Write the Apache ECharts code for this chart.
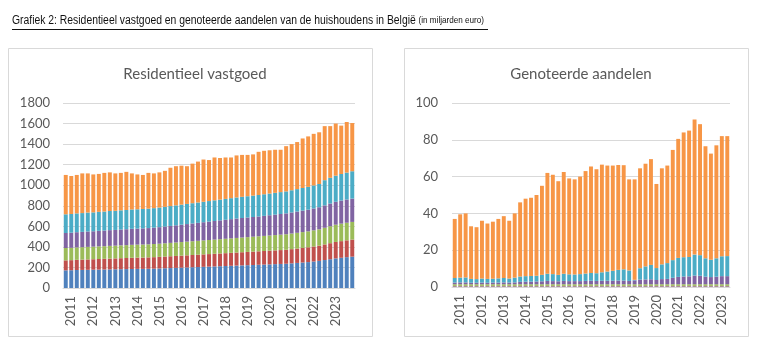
<!doctype html>
<html>
<head>
<meta charset="UTF-8">
<title>Grafiek 2</title>
<script src="https://cdn.jsdelivr.net/npm/echarts@6/dist/echarts.min.js"></script>
<style>
  html, body { margin: 0; padding: 0; background: #fff; }
  #main { width: 760px; height: 350px; }
</style>
</head>
<body>
<div id="main"></div>
<script type="text/javascript">
// kwartalen, 2010Q4 - 2023Q4
var quarters = [
  '2010Q4',
  '2011Q1','2011Q2','2011Q3','2011Q4','2012Q1','2012Q2','2012Q3','2012Q4',
  '2013Q1','2013Q2','2013Q3','2013Q4','2014Q1','2014Q2','2014Q3','2014Q4',
  '2015Q1','2015Q2','2015Q3','2015Q4','2016Q1','2016Q2','2016Q3','2016Q4',
  '2017Q1','2017Q2','2017Q3','2017Q4','2018Q1','2018Q2','2018Q3','2018Q4',
  '2019Q1','2019Q2','2019Q3','2019Q4','2020Q1','2020Q2','2020Q3','2020Q4',
  '2021Q1','2021Q2','2021Q3','2021Q4','2022Q1','2022Q2','2022Q3','2022Q4',
  '2023Q1','2023Q2','2023Q3','2023Q4'
];
// aandelen lopen tot 2023Q2
var quartersShares = quarters.slice(0, 51);

// Residentieel vastgoed (miljard euro), van onder naar boven
var resBlue = [172,173,175,176,177,178,179,180,181,182,183,184,185,186,186,187,188,190,192,194,196,198,200,202,204,206,208,210,212,214,216,218,220,222,224,226,228,230,232,234,236,240,244,248,252,258,264,272,280,288,294,300,305];
var resRed = [97,98,99,100,101,102,103,104,105,106,107,108,109,110,110,111,112,113,114,115,116,117,118,119,120,121,122,123,124,125,126,127,128,129,130,131,132,133,134,135,136,138,140,142,144,146,148,152,156,160,162,164,166];
var resGreen = [120,120,121,121,122,122,123,123,124,124,125,125,126,126,127,127,128,128,129,130,131,132,133,134,135,136,137,138,139,140,141,142,143,144,145,146,147,148,149,150,151,152,153,154,155,157,159,162,165,168,170,171,172];
var resPurple = [146,147,148,149,150,150,151,152,153,153,154,155,156,156,157,158,159,161,163,165,167,169,171,173,175,177,179,181,183,185,187,189,190,191,192,193,195,197,199,201,203,205,207,209,211,213,215,218,221,223,225,226,227];
var resTeal = [182,182,183,183,184,184,185,185,186,186,187,187,188,188,189,189,190,191,192,193,194,195,196,197,198,199,200,201,202,203,204,205,206,207,208,209,210,211,212,213,214,216,218,220,222,224,226,245,250,254,258,262,266];
var resOrange = [383,370,374,386,381,369,369,376,376,364,364,371,351,339,331,348,338,342,350,373,381,379,367,385,398,411,399,417,405,403,396,409,408,402,401,420,423,421,419,412,440,449,458,482,491,502,503,526,503,507,471,492,469];

// Genoteerde aandelen (miljard euro)
var shBlue = [0.3,0.3,0.3,0.3,0.3,0.3,0.3,0.3,0.3,0.3,0.3,0.3,0.3,0.3,0.3,0.3,0.3,0.3,0.3,0.3,0.3,0.3,0.3,0.3,0.3,0.3,0.3,0.3,0.3,0.3,0.3,0.3,0.3,0.3,0.3,0.3,0.3,0.3,0.3,0.3,0.3,0.3,0.3,0.3,0.3,0.3,0.3,0.3,0.3,0.3,0.3];
var shRed = [0.3,0.3,0.3,0.3,0.3,0.3,0.3,0.3,0.3,0.3,0.3,0.3,0.3,0.3,0.3,0.3,0.3,0.3,0.3,0.3,0.3,0.3,0.3,0.3,0.3,0.3,0.3,0.3,0.3,0.3,0.3,0.3,0.3,0.3,0.3,0.3,0.3,0.3,0.3,0.3,0.3,0.3,0.3,0.3,0.3,0.3,0.3,0.3,0.3,0.3,0.3];
var shGreen = [0.9,0.9,0.9,0.9,0.9,0.9,0.9,0.9,0.9,0.9,0.9,0.9,0.9,0.9,0.9,0.9,0.9,0.9,0.9,0.9,0.9,0.9,0.9,0.9,0.9,0.9,0.9,0.9,0.9,0.9,0.9,0.9,0.9,0.9,0.9,0.9,0.9,0.9,0.9,0.9,0.9,0.9,0.9,0.9,0.9,0.9,0.9,0.9,0.9,0.9,0.9];
var shPurple = [0.9,1.0,1.0,0.8,0.8,0.9,0.8,0.9,0.9,1.0,0.9,1.0,1.3,1.4,1.4,1.5,1.6,1.8,1.7,1.6,1.8,1.7,1.7,1.7,1.8,1.9,1.8,1.9,1.9,1.9,2.0,2.0,1.8,2.1,2.5,2.6,2.7,2.3,2.8,2.9,3.5,4.0,4.2,4.3,4.7,4.6,4.1,3.9,4.1,4.4,4.4];
var shTeal = [2.5,2.6,2.7,2.1,2.0,2.2,2.1,2.1,2.3,2.4,2.2,2.6,2.9,3.0,3.1,3.1,3.5,3.9,3.8,3.5,3.9,3.7,3.6,3.8,4.0,4.2,4.2,4.6,5.0,5.4,5.8,6.1,5.7,0.3,6.2,7.1,7.8,6.5,8.0,8.6,9.6,10.3,10.5,10.5,11.4,11.2,10.0,9.4,10.0,10.8,10.9];
var shOrange = [32.1,34.4,34.8,28.6,28.2,31.4,30.1,31.0,32.3,33.6,31.4,34.9,40.3,42.1,42.5,43.9,48.4,54.8,54.0,50.9,55.3,52.1,51.7,53.0,55.7,57.9,56.5,58.5,57.6,57.2,57.0,56.6,49.5,54.6,54.3,55.8,57.5,45.7,52.2,53.0,59.9,64.7,67.8,68.7,73.4,71.2,60.9,57.7,61.4,65.3,65.2];

var colors = ['#4f81bd', '#c0504d', '#9bbb59', '#8064a2', '#4bacc6', '#f79646'];
var labelColor = '#595959';
var gridColor = '#d9d9d9';
var uiFont = 'Lato, "Open Sans", sans-serif';
var headFont = '"Liberation Sans", Arial, sans-serif';

var myChart = echarts.init(document.getElementById('main'), null, { renderer: 'canvas' });

function xAxisFor(gridIndex, data) {
    return {
        type: 'category',
        gridIndex: gridIndex,
        data: data,
        axisLine: { show: true, lineStyle: { color: gridColor } },
        axisTick: { show: false },
        axisLabel: {
            rotate: 90,
            margin: 8,
            color: labelColor,
            fontFamily: uiFont,
            fontSize: 13,
            interval: function (idx) { return idx % 4 === 1; },
            formatter: function (v) { return v.slice(0, 4); }
        }
    };
}

function yAxisFor(gridIndex, max, step, margin) {
    return {
        type: 'value',
        gridIndex: gridIndex,
        min: 0,
        max: max,
        interval: step,
        axisLine: { show: false },
        axisTick: { show: false },
        splitLine: { lineStyle: { color: gridColor, width: 1 } },
        axisLabel: {
            color: labelColor, fontFamily: uiFont, fontSize: 13, margin: margin,
            formatter: function (v) { return String(v); }
        }
    };
}

function barsFor(axisIndex, stack, lists) {
    return lists.map(function (d, i) {
        return {
            type: 'bar',
            stack: stack,
            xAxisIndex: axisIndex,
            yAxisIndex: axisIndex,
            data: d,
            barCategoryGap: '28%',
            itemStyle: { color: colors[i] },
            silent: true
        };
    });
}

var option = {
    animation: false,
    title: [
        {
            text: 'Residentieel vastgoed',
            left: 190, top: 62, textAlign: 'center',
            textStyle: { color: labelColor, fontFamily: uiFont, fontSize: 15, fontWeight: 'normal' }
        },
        {
            text: 'Genoteerde aandelen',
            left: 576, top: 62, textAlign: 'center',
            textStyle: { color: labelColor, fontFamily: uiFont, fontSize: 15, fontWeight: 'normal' }
        }
    ],
    graphic: [
        {
            type: 'text', x: 12, y: 14, scaleX: 0.83,
            style: {
                text: '{a|Grafiek 2: Residentieel vastgoed en genoteerde aandelen van de huishoudens in België} {b|(in miljarden euro)}',
                rich: {
                    a: { fontFamily: headFont, fontSize: 12.5, fill: '#111' },
                    b: { fontFamily: headFont, fontSize: 9.8, fill: '#111' }
                }
            }
        },
        { type: 'line', shape: { x1: 12, y1: 29.5, x2: 488, y2: 29.5 }, style: { stroke: '#111', lineWidth: 1 } },
        { type: 'rect', shape: { x: 8.5, y: 48.5, width: 364, height: 288 }, style: { fill: 'none', stroke: gridColor, lineWidth: 1 } },
        { type: 'rect', shape: { x: 404.5, y: 48.5, width: 344, height: 288 }, style: { fill: 'none', stroke: gridColor, lineWidth: 1 } }
    ],
    grid: [
        { left: 63, top: 103, width: 292, height: 185 },
        { left: 452, top: 103, width: 278, height: 184 }
    ],
    xAxis: [xAxisFor(0, quarters), xAxisFor(1, quartersShares)],
    yAxis: [yAxisFor(0, 1800, 200, 13), yAxisFor(1, 100, 20, 14)],
    series: barsFor(0, 'res', [resBlue, resRed, resGreen, resPurple, resTeal, resOrange])
        .concat(barsFor(1, 'sh', [shBlue, shRed, shGreen, shPurple, shTeal, shOrange]))
};

myChart.setOption(option);
</script>
</body>
</html>
